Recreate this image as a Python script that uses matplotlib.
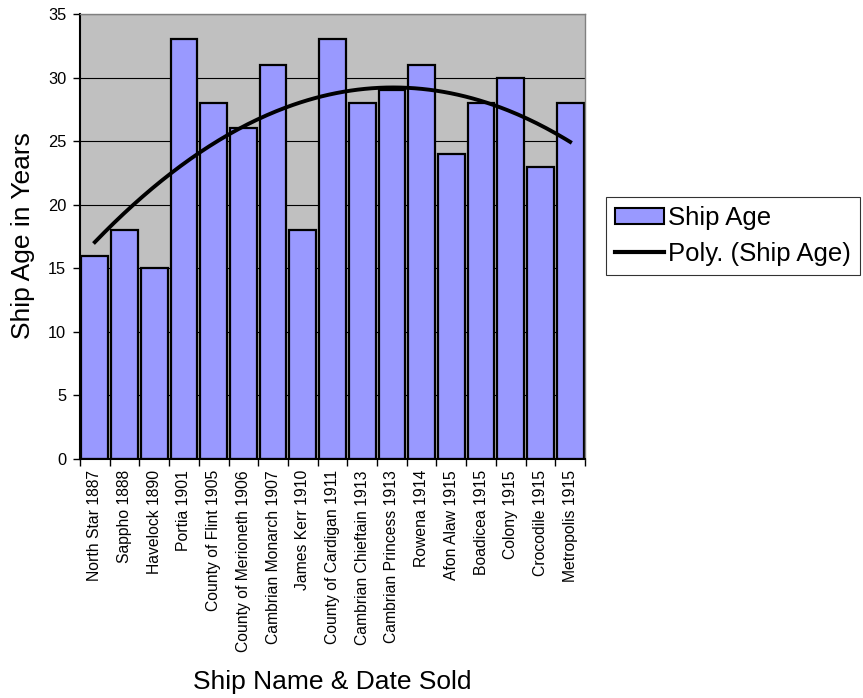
import numpy as np
import matplotlib.pyplot as plt
from matplotlib.patches import Patch
from matplotlib.lines import Line2D

plt.rcParams['font.family'] = ['Liberation Sans', 'DejaVu Sans']

ships = ["North Star 1887", "Sappho 1888", "Havelock 1890", "Portia 1901",
         "County of Flint 1905", "County of Merioneth 1906", "Cambrian Monarch 1907",
         "James Kerr 1910", "County of Cardigan 1911", "Cambrian Chieftain 1913",
         "Cambrian Princess 1913", "Rowena 1914", "Afon Alaw 1915", "Boadicea 1915",
         "Colony 1915", "Crocodile 1915", "Metropolis 1915"]
ages = [16, 18, 15, 33, 28, 26, 31, 18, 33, 28, 29, 31, 24, 28, 30, 23, 28]

fig = plt.figure(figsize=(8.63, 6.98), dpi=100)
ax = fig.add_axes([80 / 863, 1 - 459 / 698, 505 / 863, 445 / 698])
ax.set_facecolor('#C0C0C0')

x = np.arange(1, len(ages) + 1)
ax.bar(x, ages, width=0.9, color='#9999FF', edgecolor='black', linewidth=1.6, zorder=2)

# 2nd-order polynomial trendline through the bar centres
coef = np.polyfit(x, ages, 2)
xs = np.linspace(x[0], x[-1], 200)
ax.plot(xs, np.polyval(coef, xs), color='black', linewidth=2.8, zorder=3)

ax.set_xlim(0.5, len(ages) + 0.5)
ax.set_ylim(0, 35)
ax.set_yticks(range(0, 36, 5))
ax.yaxis.grid(True, color='black', linewidth=0.8, zorder=1)
ax.set_axisbelow(True)

ax.set_xticks(x)
ax.set_xticklabels(ships, rotation=90, fontsize=11.3)
ax.set_xticks(np.arange(0.5, len(ages) + 1), minor=True)
ax.tick_params(axis='x', which='major', length=0, pad=8)
ax.tick_params(axis='x', which='minor', length=5, width=1, color='black')
ax.tick_params(axis='y', length=5, width=1, labelsize=11.8, pad=5)

for side in ['top', 'right']:
    ax.spines[side].set_color('#808080')
    ax.spines[side].set_linewidth(1)
for side in ['left', 'bottom']:
    ax.spines[side].set_color('black')
    ax.spines[side].set_linewidth(1.5)

fig.text(23 / 863, 1 - 236 / 698, 'Ship Age in Years', fontsize=19,
         rotation=90, ha='center', va='center')
fig.text(332 / 863, 1 - 682 / 698, 'Ship Name & Date Sold', fontsize=19,
         ha='center', va='center')

handles = [Patch(facecolor='#9999FF', edgecolor='black', linewidth=1.5),
           Line2D([0], [0], color='black', linewidth=3)]
leg = fig.legend(handles, ['Ship Age', 'Poly. (Ship Age)'], loc='upper left',
                 bbox_to_anchor=(606 / 863, 1 - 197 / 698), fontsize=18.5,
                 frameon=True, fancybox=False, edgecolor='black',
                 handlelength=1.9, handleheight=0.55, handletextpad=0.15,
                 borderpad=0.35, labelspacing=0.45, borderaxespad=0)
leg.get_frame().set_linewidth(0.8)

fig.savefig('out.png', dpi=100)
